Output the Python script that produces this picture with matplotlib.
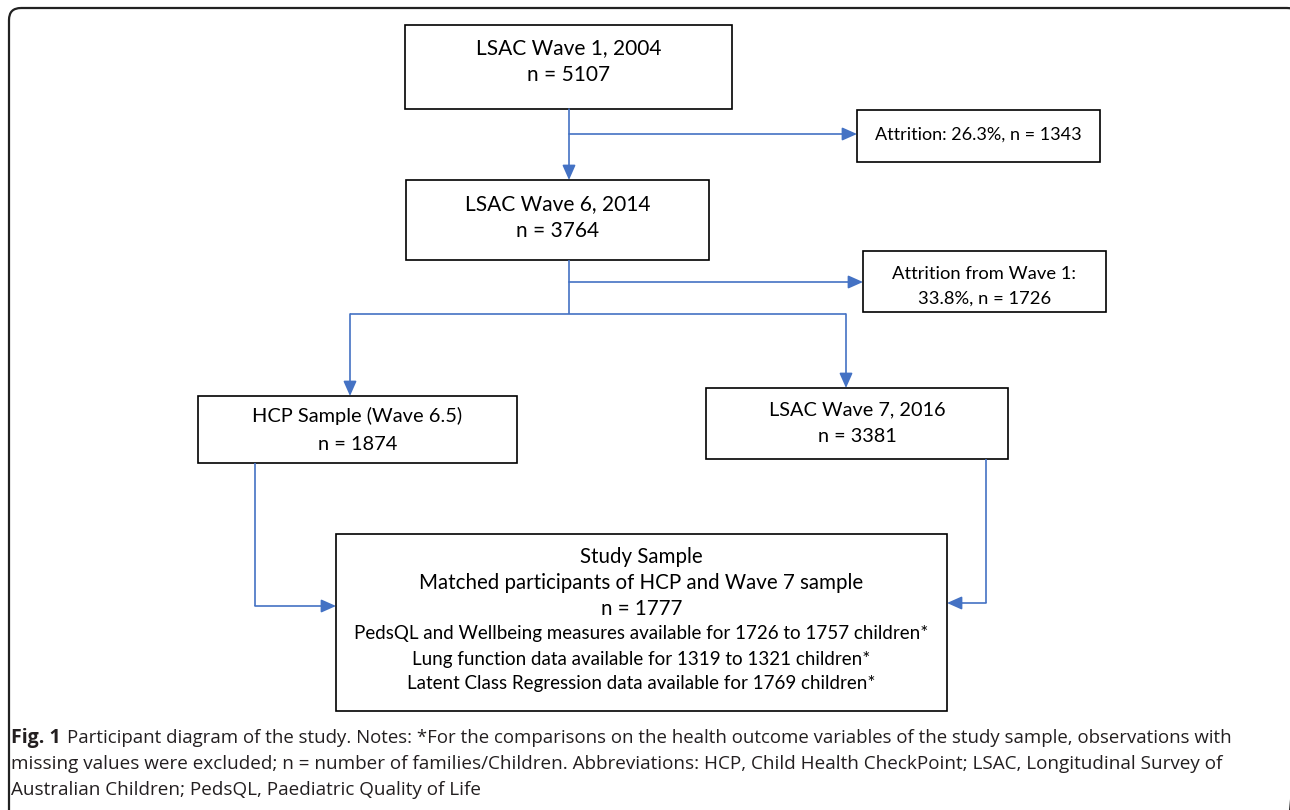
import matplotlib.pyplot as plt
from matplotlib.patches import Rectangle, FancyBboxPatch

# boxes: text lines and frame (left, top, right, bottom) in pixels
box_text = [
    ["LSAC Wave 1, 2004", "n = 5107"],
    ["Attrition: 26.3%, n = 1343"],
    ["LSAC Wave 6, 2014", "n = 3764"],
    ["Attrition from Wave 1:", "33.8%, n = 1726"],
    ["HCP Sample (Wave 6.5)", "n = 1874"],
    ["LSAC Wave 7, 2016", "n = 3381"],
    ["Study Sample", "Matched participants of HCP and Wave 7 sample", "n = 1777",
     "PedsQL and Wellbeing measures available for 1726 to 1757 children*",
     "Lung function data available for 1319 to 1321 children*",
     "Latent Class Regression data available for 1769 children*"],
]
box_frame = [
    (405, 25, 732, 109),
    (857, 110, 1100, 162),
    (406, 180, 709, 260),
    (863, 251, 1106, 312),
    (198, 396, 517, 463),
    (706, 388, 1008, 459),
    (336, 534, 947, 711),
]
# y of each text line
line_y = [
    [48, 75],
    [135],
    [204, 231],
    [274, 299],
    [416, 444],
    [410, 437],
    [557, 583, 609, 634, 659, 684],
]
box_size = [15.0, 13.0, 15.0, 13.2, 14.4, 14.3]
study_size = [14.8, 14.8, 14.8, 13.5, 13.5, 13.5]

caption = [
    "Participant diagram of the study. Notes: *For the comparisons on the health outcome variables of the study sample, observations with",
    "missing values were excluded; n = number of families/Children. Abbreviations: HCP, Child Health CheckPoint; LSAC, Longitudinal Survey of",
    "Australian Children; PedsQL, Paediatric Quality of Life",
]

blue = "#4472C4"

fig = plt.figure(figsize=(12.9, 8.1), dpi=100)
ax = fig.add_axes([0, 0, 1, 1])
ax.set_xlim(0, 1290)
ax.set_ylim(810, 0)
ax.axis("off")

# outer frame
ax.add_patch(FancyBboxPatch((9, 8), 1290, 820, boxstyle="round,pad=0,rounding_size=12",
                            fill=False, ec="#222222", lw=1.6, clip_on=True))

for k, (lines, (x0, y0, x1, y1)) in enumerate(zip(box_text, box_frame)):
    ax.add_patch(Rectangle((x0, y0), x1 - x0, y1 - y0, fill=False, ec="black", lw=1.2))
    for i, t in enumerate(lines):
        fs = box_size[k] if len(lines) <= 2 else study_size[i]
        ax.text((x0 + x1) / 2, line_y[k][i], t, ha="center", va="center",
                fontsize=fs, family="Lato")

def line(xs, ys):
    ax.plot(xs, ys, color=blue, lw=1.2, solid_capstyle="butt")

def arrow(x0, y0, x1, y1):
    ax.annotate("", xy=(x1, y1), xytext=(x0, y0),
                arrowprops=dict(arrowstyle="-|>,head_length=0.9,head_width=0.4",
                                color=blue, lw=1.2, shrinkA=0, shrinkB=0))

# wave 1 -> wave 6 and attrition
arrow(569, 109, 569, 180)
arrow(569, 134, 857, 134)
# wave 6 -> split
line([569, 569], [260, 314])
arrow(569, 282, 863, 282)
line([350, 846], [314, 314])
arrow(350, 314, 350, 396)
arrow(846, 314, 846, 388)
# HCP -> study sample
line([255, 255], [463, 606])
arrow(255, 606, 336, 606)
# wave 7 -> study sample
line([986, 986], [459, 603])
arrow(986, 603, 947, 603)

# caption
ax.text(11, 738, "Fig. 1", fontsize=14, fontweight="bold", family="Open Sans", va="center",
        color="#231f20")
ax.text(67, 738, caption[0], fontsize=13.4, family="Open Sans", va="center", color="#231f20")
ax.text(11, 764, caption[1], fontsize=13.6, family="Open Sans", va="center", color="#231f20")
ax.text(11, 790, caption[2], fontsize=13.6, family="Open Sans", va="center", color="#231f20")

fig.savefig("out.png", dpi=100)
